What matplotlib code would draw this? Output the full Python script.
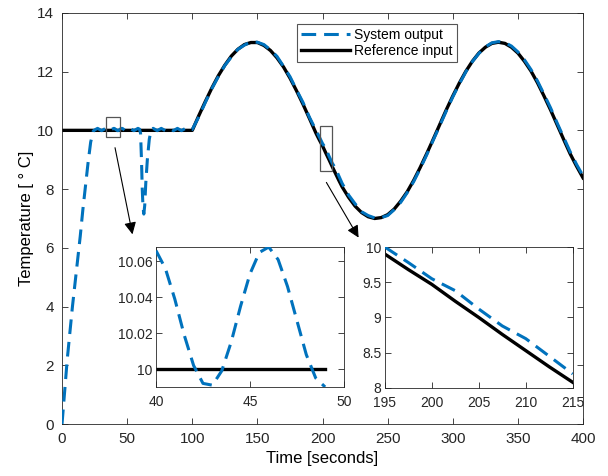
import matplotlib.pyplot as plt
import numpy as np
from matplotlib.patches import Rectangle


plt.rcParams["font.family"] = ["Liberation Sans", "DejaVu Sans"]

BLUE = "#0072BD"
FRAME = "#262626"

# reference input (black)
REF_TIME = [0, 40, 49, 100, 105, 110, 115, 120, 125, 130, 135, 140, 145, 150,
            155, 160, 165, 170, 175, 180, 185, 190, 195, 197.5, 200, 202.5,
            205, 207.5, 210, 212.5, 215, 220, 225, 230, 235, 240, 245, 250,
            255, 260, 265, 270, 275, 280, 285, 290, 295, 300, 305, 310, 315,
            320, 325, 330, 335, 340, 345, 350, 355, 360, 365, 370, 375, 380,
            385, 390, 395, 400]
REF_TEMP = [10, 10, 10, 10, 10.50, 10.98, 11.44, 11.86, 12.22, 12.53, 12.76,
            12.92, 12.99, 12.99, 12.89, 12.72, 12.47, 12.16, 11.78, 11.35,
            10.89, 10.40, 9.90, 9.68, 9.47, 9.23, 9.00, 8.76, 8.53, 8.30, 8.08,
            7.72, 7.42, 7.20, 7.06, 7.00, 7.03, 7.13, 7.32, 7.59, 7.91, 8.30,
            8.74, 9.21, 9.70, 10.20, 10.70, 11.17, 11.61, 12.01, 12.35, 12.63,
            12.83, 12.96, 13.00, 12.96, 12.83, 12.63, 12.35, 12.02, 11.62,
            11.17, 10.70, 10.20, 9.70, 9.21, 8.78, 8.38]

# system output (blue dashed)
OUT_TIME = [0, 2, 4, 6, 8, 10, 12, 14, 16, 18, 20, 22, 24, 25.7, 27.3, 28.85,
            30.4, 31.95, 33.5, 35.05, 36.6, 38.15, 39.7,
            40, 40.5, 41, 41.5, 42, 42.5, 43, 43.5, 44, 44.5, 45, 45.5, 46,
            46.5, 47, 47.5, 48, 48.5, 49,
            50.55, 52.1, 53.65, 55.2, 56.75, 58.3, 59.5, 60.3, 61.0, 61.6,
            62.2, 62.8, 63.5, 64.3, 65.5, 67.0, 68.5, 70, 71.55, 73.1, 74.65,
            76.2, 77.75, 79.3, 80.85, 82.4, 83.95, 85.5, 87.05, 88.6, 90.15,
            91.7, 93.25, 94.8, 96.35, 97.9, 99.45,
            100, 105, 110, 115, 120, 125, 130, 135, 140, 145, 150, 155, 160,
            165, 170, 175, 180, 185, 190, 195, 197.5, 200, 202.5, 205, 207.5,
            210, 212.5, 215, 220, 225, 230, 235, 240, 245, 250, 255, 260, 265,
            270, 275, 280, 285, 290, 295, 300, 305, 310, 315, 320, 325, 330,
            335, 340, 345, 350, 355, 360, 365, 370, 375, 380, 385, 390, 395,
            400]
OUT_TEMP = [0, 1.1, 2.2, 3.1, 4.0, 4.8, 5.6, 6.4, 7.3, 8.1, 8.9, 9.6, 9.98,
            10.03, 10.068, 10.03, 9.99, 10.03, 10.068, 10.03, 9.99, 10.03,
            10.068,
            10.066, 10.056, 10.039, 10.019, 10.002, 9.992, 9.991, 9.999,
            10.015, 10.035, 10.053, 10.065, 10.068, 10.061, 10.046, 10.027,
            10.008, 9.995, 9.990,
            10.03, 10.068, 10.03, 9.99, 10.03, 10.068, 10.04, 9.9, 9.0, 8.0,
            7.35, 7.15, 7.45, 8.2, 9.0, 9.7, 10.04, 10.068, 10.03, 9.99,
            10.03, 10.068, 10.03, 9.99, 10.03, 10.068, 10.03, 9.99, 10.03,
            10.068, 10.03, 9.99, 10.03, 10.068, 10.03, 9.99, 10.03,
            10.03, 10.46, 10.95, 11.42, 11.83, 12.21, 12.50, 12.76, 12.90,
            13.02, 13.00, 12.92, 12.74, 12.52, 12.18, 11.83, 11.38, 10.95,
            10.44, 10.00, 9.78, 9.55, 9.38, 9.12, 8.88, 8.70, 8.45, 8.20,
            7.80, 7.50, 7.23, 7.10, 7.02, 7.03, 7.10, 7.30, 7.55, 7.88, 8.26,
            8.70, 9.17, 9.67, 10.16, 10.66, 11.14, 11.58, 11.99, 12.34,
            12.62, 12.84, 12.98, 13.02, 12.99, 12.87, 12.67, 12.40, 12.07,
            11.68, 11.23, 10.77, 10.26, 9.77, 9.28, 8.84, 8.45]

LEFT_ZOOM = (40, 49)
RIGHT_ZOOM = (195, 215)

DASHES = (4.8, 2.6)


def style_axes(ax, size, xpad, ypad):
    for spine in ax.spines.values():
        spine.set_color(FRAME)
        spine.set_linewidth(0.6)
    ax.tick_params(direction="in", top=True, right=True, labelsize=size,
                   colors=FRAME, labelcolor="#262626", length=4, width=0.6)
    ax.tick_params(axis="x", pad=xpad)
    ax.tick_params(axis="y", pad=ypad)


def draw_lines(ax, t_lo=None, t_hi=None):
    ref_t = np.array(REF_TIME)
    ref_v = np.array(REF_TEMP)
    out_t = np.array(OUT_TIME)
    out_v = np.array(OUT_TEMP)
    if t_lo is not None:
        m = (ref_t >= t_lo) & (ref_t <= t_hi)
        ref_t, ref_v = ref_t[m], ref_v[m]
        m = (out_t >= t_lo) & (out_t <= t_hi)
        out_t, out_v = out_t[m], out_v[m]
    ax.plot(out_t, out_v, color=BLUE, lw=2.2, dashes=DASHES,
            label="System output", zorder=3)
    ax.plot(ref_t, ref_v, color="black", lw=2.4, label="Reference input",
            zorder=2)


def main():
    fig = plt.figure(figsize=(6.08, 4.76), dpi=100)
    ax = fig.add_axes([0.102, 0.109, 0.857, 0.864])

    draw_lines(ax)
    ax.set_xlim(0, 400)
    ax.set_ylim(0, 14)
    ax.set_xticks(np.arange(0, 401, 50))
    ax.set_yticks(np.arange(0, 15, 2))
    ax.set_xlabel("Time [seconds]", fontsize=12, labelpad=3)
    ax.set_ylabel("Temperature [ ° C]", fontsize=12, labelpad=2)
    style_axes(ax, 11, 6, 6)

    leg = ax.legend(loc="upper left", bbox_to_anchor=(0.451, 0.973),
                    borderaxespad=0, fancybox=False, fontsize=10,
                    handlelength=3.5, handletextpad=0.3, borderpad=0.3,
                    labelspacing=0.15, framealpha=1)
    leg.get_frame().set_edgecolor("#555555")
    leg.get_frame().set_linewidth(0.8)

    # zoom boxes on the main plot
    ax.add_patch(Rectangle((33.5, 9.77), 11, 0.68, fill=False,
                           edgecolor="#555555", lw=0.9, zorder=4))
    ax.add_patch(Rectangle((198, 8.6), 9.5, 1.56, fill=False,
                           edgecolor="#555555", lw=0.9, zorder=4))

    arrow = dict(arrowstyle="-|>", color="black", lw=0.8, mutation_scale=18)
    ax.annotate("", xy=(0.2188, 0.502), xycoords="figure fraction",
                xytext=(0.1883, 0.6954), textcoords="figure fraction",
                arrowprops=arrow)
    ax.annotate("", xy=(0.5921, 0.4958), xycoords="figure fraction",
                xytext=(0.5345, 0.6218), textcoords="figure fraction",
                arrowprops=arrow)

    # left inset
    ax1 = fig.add_axes([0.2566, 0.187, 0.309, 0.294])
    draw_lines(ax1, *LEFT_ZOOM)
    ax1.set_xlim(40, 50)
    ax1.set_ylim(9.990, 10.068)
    ax1.set_xticks([40, 45, 50])
    ax1.set_yticks([10, 10.02, 10.04, 10.06])
    ax1.set_yticklabels(["10", "10.02", "10.04", "10.06"])
    style_axes(ax1, 10, 6, 2.5)

    # right inset
    ax2 = fig.add_axes([0.633, 0.185, 0.309, 0.296])
    draw_lines(ax2, *RIGHT_ZOOM)
    ax2.set_xlim(195, 215)
    ax2.set_ylim(8, 10)
    ax2.set_xticks([195, 200, 205, 210, 215])
    ax2.set_yticks([8, 8.5, 9, 9.5, 10])
    ax2.set_yticklabels(["8", "8.5", "9", "9.5", "10"])
    style_axes(ax2, 10, 6, 2.5)

    fig.savefig("out.png", dpi=100)
    plt.close(fig)


if __name__ == "__main__":
    main()
